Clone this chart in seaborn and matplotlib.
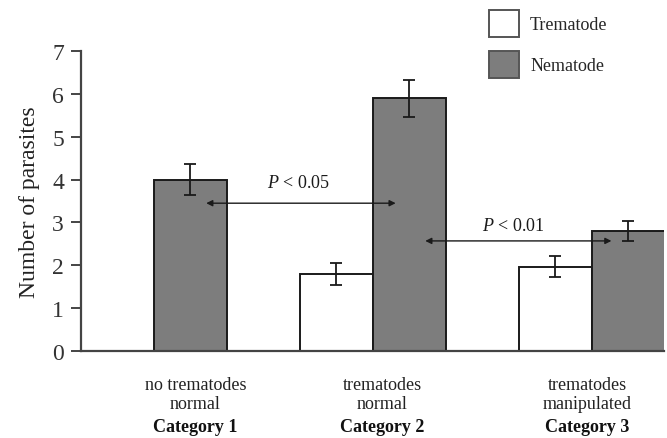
import numpy as np
import pandas as pd
import seaborn as sns
import matplotlib.pyplot as plt

categories = ["Category 1", "Category 2", "Category 3"]
descriptions = ["no trematodes\nnormal", "trematodes\nnormal", "trematodes\nmanipulated"]
parasites = ["Trematode", "Nematode"]
trematode_mean = [np.nan, 1.8, 1.97]
trematode_err = [np.nan, 0.25, 0.25]
nematode_mean = [4.0, 5.9, 2.8]
nematode_err = [0.37, 0.43, 0.23]


def set_config():
    sns.set_theme(style="ticks")
    plt.rcParams['font.family'] = ['Liberation Serif', 'DejaVu Serif']
    plt.rcParams['mathtext.fontset'] = 'custom'
    plt.rcParams['mathtext.rm'] = 'Liberation Serif'
    plt.rcParams['mathtext.it'] = 'Liberation Serif:italic'
    plt.rcParams['axes.unicode_minus'] = False


def build_frame():
    df = pd.DataFrame({
        "category": categories * 2,
        "parasite": ["Trematode"] * 3 + ["Nematode"] * 3,
        "count": trematode_mean + nematode_mean,
        "err": trematode_err + nematode_err,
    })
    return df


def main():
    set_config()
    df = build_frame()

    fig = plt.figure(figsize=(6.67, 4.39), dpi=100)
    ax = fig.add_axes([0.121, 0.198, 0.8745, 0.6835])

    sns.barplot(data=df, x="category", y="count", hue="parasite",
                order=categories, hue_order=parasites,
                palette={"Trematode": "white", "Nematode": "#7d7d7d"},
                saturation=1, width=0.667, errorbar=None,
                edgecolor="#1a1a1a", linewidth=1.4, ax=ax)

    # error bars on top of each bar, matched by bar position
    for p in ax.patches:
        h = p.get_height()
        if not np.isfinite(h) or h == 0:
            continue
        xc = p.get_x() + p.get_width() / 2
        ci = int(round(xc))
        kind = "Trematode" if xc < ci else "Nematode"
        row = df[(df.category == categories[ci]) & (df.parasite == kind)].iloc[0]
        ax.errorbar(xc, row["count"], yerr=row["err"], fmt="none",
                    ecolor="#1a1a1a", elinewidth=1.3, capsize=4, capthick=1.3)

    handles, labels = ax.get_legend_handles_labels()
    ax.get_legend().remove()
    for hd in handles:
        hd.set_edgecolor("#555555")
    fig.legend(handles, labels, loc="upper left", bbox_to_anchor=(0.709, 1.012),
               frameon=False, fontsize=13, handlelength=1.67, handleheight=1.95,
               labelspacing=0.75, handletextpad=0.6)

    # significance arrows
    arrow = dict(arrowstyle="<|-|>", color="#1a1a1a", lw=1.0,
                 mutation_scale=9, shrinkA=0, shrinkB=0)
    ax.annotate("", xy=(0.24, 3.45), xytext=(1.105, 3.45), arrowprops=arrow)
    ax.annotate("", xy=(1.24, 2.57), xytext=(2.09, 2.57), arrowprops=arrow)
    ax.text(0.66, 3.94, "$P$ < 0.05", ha="center", va="center", fontsize=13, color="#1a1a1a")
    ax.text(1.64, 2.94, "$P$ < 0.01", ha="center", va="center", fontsize=13, color="#1a1a1a")

    ax.set_xlim(-0.333, 2.33)
    ax.set_ylim(0, 7)
    ax.set_yticks(range(8))
    ax.set_xticks([])
    ax.set_xlabel("")
    ax.set_ylabel("Number of parasites", fontsize=17, color="#222222", labelpad=9)
    ax.tick_params(axis="y", labelsize=17, length=7, width=1.4, color="#444444",
                   labelcolor="#333333", pad=5)
    sns.despine(ax=ax)
    for side in ["left", "bottom"]:
        ax.spines[side].set_color("#444444")
        ax.spines[side].set_linewidth(1.6)

    # category labels below the axis
    label_x = [0.19, 1.045, 1.98]
    for x, desc, cat in zip(label_x, descriptions, categories):
        ax.text(x, -0.083, desc, transform=ax.get_xaxis_transform(), ha="center",
                va="top", fontsize=13, color="#222222", linespacing=1.15)
        ax.text(x, -0.253, cat, transform=ax.get_xaxis_transform(), ha="center",
                va="center", fontsize=13, fontweight="bold", color="#111111")

    fig.savefig("out.png", dpi=100)


if __name__ == "__main__":
    main()
